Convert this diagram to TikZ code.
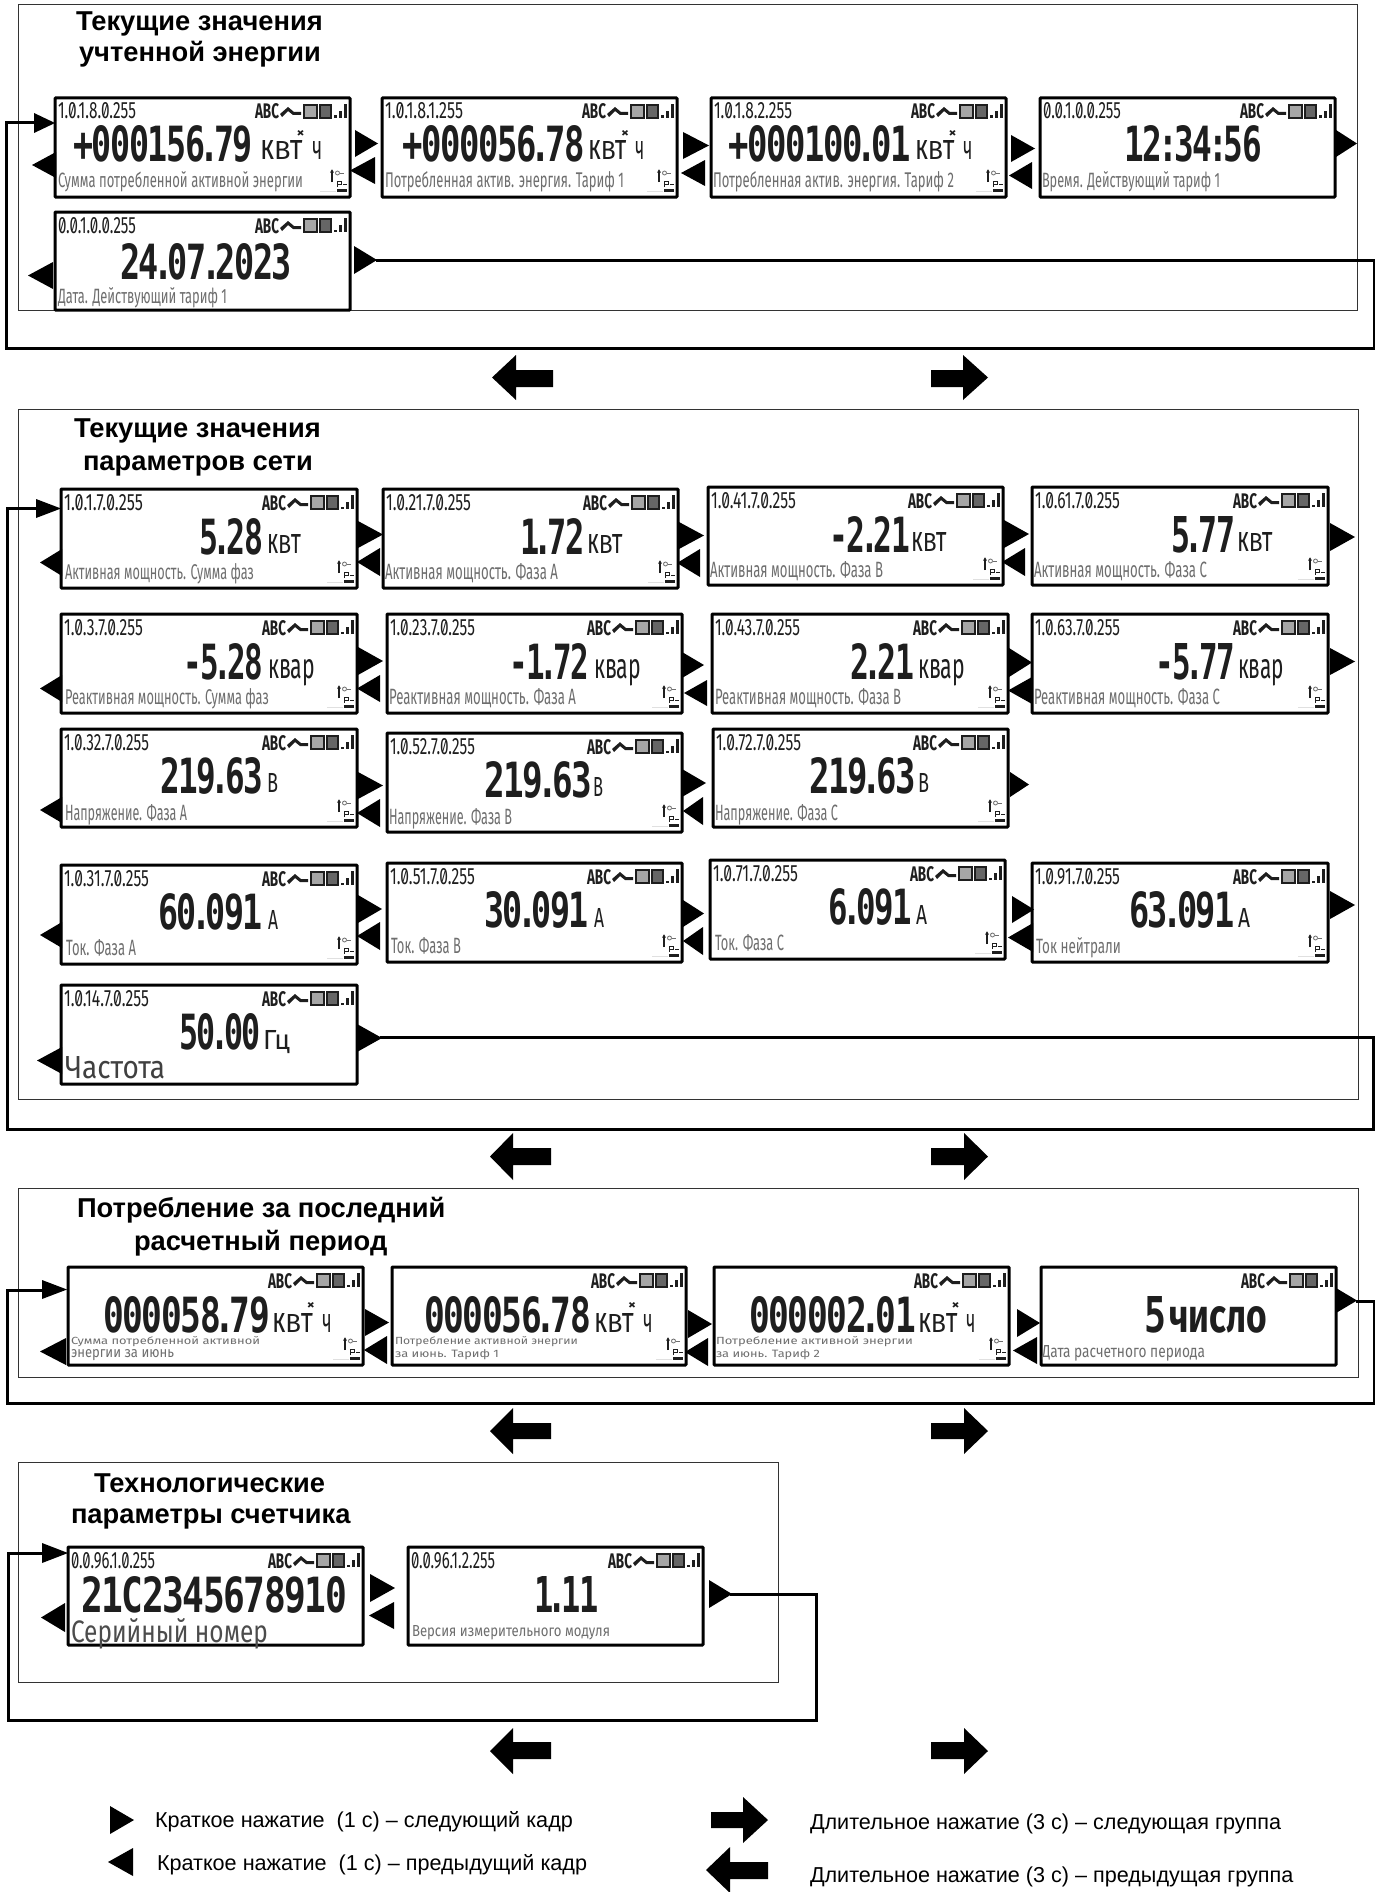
\documentclass[tikz,border=0pt]{standalone}
\usepackage{fontspec}
\setmainfont{Liberation Sans}
\newfontfamily\lcd[RawFeature=+zero]{Fira Sans}
\newfontfamily\lcdnum[LetterSpace=-4]{DejaVu Sans Mono}
\usetikzlibrary{calc,arrows.meta}
\definecolor{lcdink}{HTML}{1E1E1E}
\definecolor{lcdgray}{HTML}{6E6E6E}
\newcounter{nn}
\tikzset{
  fitnode/.style={anchor=base west,inner sep=0pt,outer sep=0pt,text=lcdink},
  lblnode/.style={fitnode,text=lcdgray},
  screenbox/.style={draw=black,line width=3pt,fill=white,rectangle,inner sep=0pt,outer sep=0pt,rounded corners=0.8pt},
  groupframe/.style={draw=black!80,line width=1pt},
  looper/.style={draw=black,line width=3pt,line join=miter},
  titlenode/.style={anchor=base west,inner sep=0pt,outer sep=0pt,font=\bfseries\fontsize{27.3}{30}\selectfont},
  legendnode/.style={anchor=base west,inner sep=0pt,outer sep=0pt,font=\fontsize{21.6}{26}\selectfont},
}
\newcommand\tallk{\scalebox{1}[1.38]{к}}
\newcommand\tallt{\scalebox{1}[1.38]{т}}
\newcommand\dpt{\kern-.17em.\kern-.17em}
\newcommand\cln{\kern-.12em:\kern-.12em}
\newcommand\fitt[6]{\stepcounter{nn}\node[#5] (t\thenn) at (#1,#2) {\resizebox{#3pt}{#4pt}{#6}};}
% status row relative to upper right corner
\newcommand\statusrow[2]{%
 \begin{scope}[shift={(#1,#2)}]
  \fitt{-95}{21}{24}{15}{fitnode}{\lcd\bfseries ABC}
  \fill[lcdink] (-70,16) -- (-62,9) -- (-56,14) -- (-49,14) -- (-49,17) -- (-57,17) -- (-62,13) -- (-68,19) -- cycle;
  \filldraw[draw=lcdink,fill=black!35,line width=2pt] (-46,7) rectangle (-33.5,20);
  \filldraw[draw=lcdink,fill=black!60,line width=2pt] (-30.5,7) rectangle (-19.5,20);
  \fill[lcdink] (-16.5,17.5) rectangle (-13.5,20);
  \fill[lcdink] (-11.5,13) rectangle (-8.5,20);
  \fill[lcdink] (-6,6) rectangle (-3,20);
 \end{scope}}
% key icon relative to lower right corner
\newcommand\keyicon[2]{%
 \begin{scope}[shift={(#1,#2)}]
  \draw[lcdink,line width=1.1pt,-{Latex[length=3.5pt,width=4pt]}] (-18,-15) -- (-18,-28);
  \draw[lcdgray,line width=.8pt] (-12.5,-24) circle (2pt);
  \draw[lcdgray,line width=.8pt] (-10,-24) -- (-6,-24);
  \draw[lcdink,line width=.8pt] (-13,-10) -- (-13,-16) -- (-9,-16) -- (-9,-13) -- (-13,-13);
  \draw[lcdink,line width=.8pt] (-7,-13) -- (-3,-13);
  \fill[lcdink] (-13,-8) rectangle (-3,-5.5);
  \fill[black!12] (-30,-6.5) rectangle (-14,-5.5);
 \end{scope}}
\newcommand\lcdscreen[6]{% name x0 y0 x1 y1 obis
 \pgfmathsetmacro\scw{#4-#2}\pgfmathsetmacro\sch{#5-#3}
 \node[screenbox,minimum width=\scw pt,minimum height=\sch pt] (#1) at ({(#2+#4)/2},{(#3+#5)/2}) {};
 \def\obtext{#6}\ifx\obtext\empty\else
  \pgfmathsetmacro\obx{#2+3}\pgfmathsetmacro\oby{#3+21}
  \fitt{\obx}{\oby}{\obiswidth}{16}{fitnode}{\lcd #6}\fi
 \statusrow{#4}{#3}}
\def\obiswidth{78}
\newcommand\rtri[4]{\fill[black] (#1,#3) -- (#2,{(#3+#4)/2}) -- (#1,#4) -- cycle;}
\newcommand\ltri[4]{\fill[black] (#2,#3) -- (#1,{(#3+#4)/2}) -- (#2,#4) -- cycle;}
\newcommand\bigR[7]{\fill[black] (#1,#5) -- (#2,#5) -- (#2,#3) -- (#7,{(#3+#4)/2}) -- (#2,#4) -- (#2,#6) -- (#1,#6) -- cycle;}
\newcommand\bigL[7]{\fill[black] (#1,#5) -- (#2,#5) -- (#2,#3) -- (#7,{(#3+#4)/2}) -- (#2,#4) -- (#2,#6) -- (#1,#6) -- cycle;}
\newcommand\valnum[4]{\pgfmathsetmacro\vw{#2-#1}\fitt{#1}{#3}{\vw}{36}{fitnode}{\lcdnum\bfseries #4}}
\newcommand\unitpl[5]{\pgfmathsetmacro\vw{#2-#1}\fitt{#1}{#3}{\vw}{#4}{fitnode}{\lcd #5}}
\newcommand\lbl[5]{\pgfmathsetmacro\vw{#2-#1}\fitt{#1}{#3}{\vw}{#4}{lblnode}{\lcd #5}}
% energy unit: кВт * ч
\newcommand\enunit[3]{%
 \pgfmathsetmacro\vw{#2-#1}\pgfmathsetmacro\ua{\vw*0.68}\pgfmathsetmacro\ub{#1+\vw*0.84}\pgfmathsetmacro\uc{\vw*0.16}\pgfmathsetmacro\ud{#1+\vw*0.58}
 \fitt{#1}{#3}{\ua}{19}{fitnode}{\lcd \tallk В\tallt}
 \fitt{\ub}{#3}{\uc}{18}{fitnode}{\lcd ч}
 \pgfmathsetmacro\ue{#3-23}
 \fitt{\ud}{\ue}{8}{7}{fitnode}{\lcd\bfseries ×}}
\begin{document}
\begin{tikzpicture}[x=1pt,y=-1pt]
\useasboundingbox (0,0) rectangle (1375,1892);
\fill[white] (0,0) rectangle (1375,1892);

% ---------- frames
\draw[groupframe] (18,5) rectangle (1357,310);
\draw[groupframe] (18,409) rectangle (1358,1099);
\draw[groupframe] (18,1188) rectangle (1358,1377);
\draw[groupframe] (18,1462) rectangle (778,1682);

% ---------- titles
\node[titlenode] (ti1a) at (76,31) {Текущие значения};
\node[titlenode] (ti1b) at (79,62) {учтенной энергии};
\node[titlenode] (ti2a) at (74,437) {Текущие значения};
\node[titlenode] (ti2b) at (83,470) {параметров сети};
\node[titlenode] (ti3a) at (77,1217) {Потребление за последний};
\node[titlenode] (ti3b) at (134,1250) {расчетный период};
\node[titlenode] (ti4a) at (94,1492) {Технологические};
\node[titlenode] (ti4b) at (71,1523) {параметры счетчика};

% ---------- group 1
\lcdscreen{a1}{55}{98}{350}{197}{1.0.1.8.0.255}
\lcdscreen{a2}{382}{98}{677}{197}{1.0.1.8.1.255}
\lcdscreen{a3}{711}{98}{1006}{197}{1.0.1.8.2.255}
\lcdscreen{a4}{1040}{98}{1335}{197}{0.0.1.0.0.255}
\lcdscreen{a5}{55}{212}{350}{310}{0.0.1.0.0.255}
\keyicon{350}{197}\keyicon{677}{197}\keyicon{1006}{197}
\valnum{73}{253}{161}{+000156\dpt 79}\enunit{260}{323}{160}
\valnum{402}{585}{161}{+000056\dpt 78}\enunit{588}{645}{160}
\valnum{728}{911}{161}{+000100\dpt 01}\enunit{915}{973}{160}
\valnum{1124}{1262}{162}{12\cln 34\cln 56}
\valnum{120}{292}{279}{24\dpt 07\dpt 2023}
\lbl{58}{303}{187}{16}{Сумма потребленной активной энергии}
\lbl{385}{624}{187}{16}{Потребленная актив. энергия. Тариф 1}
\lbl{713}{954}{187}{16}{Потребленная актив. энергия. Тариф 2}
\lbl{1042}{1220}{187}{16}{Время. Действующий тариф 1}
\lbl{58}{227}{303}{16}{Дата. Действующий тариф 1}

\coordinate (a1in) at (35,123);
\coordinate (a5out) at (376,260);
\draw[looper] (a5out) -- (1374,260) -- (1374,348) -- (6,348) -- (6,123) -- (a1in);
\rtri{34}{55}{113}{133}
\ltri{32}{56}{152}{178}
\rtri{355}{378}{130}{157}\ltri{350}{375}{157}{184}
\rtri{683}{709}{132}{159}\ltri{681}{705}{160}{186}
\rtri{1011}{1035}{135}{162}\ltri{1009}{1032}{162}{189}
\rtri{1336}{1357}{130}{157}
\ltri{28}{53}{262}{289}
\rtri{354}{377}{246}{274}
\bigL{553}{516}{355}{400}{370}{387}{492}
\bigR{931}{963}{355}{400}{370}{387}{988}

% ---------- group 2
\def\obiswidth{79}
\lcdscreen{b1}{61}{489}{357}{588}{1.0.1.7.0.255}
\def\obiswidth{85}
\lcdscreen{b2}{383}{489}{678}{588}{1.0.21.7.0.255}
\lcdscreen{b3}{708}{487}{1003}{585}{1.0.41.7.0.255}
\lcdscreen{b4}{1032}{487}{1328}{585}{1.0.61.7.0.255}
\def\obiswidth{79}
\lcdscreen{c1}{61}{614}{357}{713}{1.0.3.7.0.255}
\def\obiswidth{85}
\lcdscreen{c2}{387}{614}{682}{713}{1.0.23.7.0.255}
\lcdscreen{c3}{712}{614}{1008}{713}{1.0.43.7.0.255}
\lcdscreen{c4}{1032}{614}{1328}{713}{1.0.63.7.0.255}
\lcdscreen{d1}{61}{729}{357}{827}{1.0.32.7.0.255}
\lcdscreen{d2}{387}{733}{682}{832}{1.0.52.7.0.255}
\lcdscreen{d3}{713}{729}{1008}{827}{1.0.72.7.0.255}
\lcdscreen{e1}{61}{865}{357}{964}{1.0.31.7.0.255}
\lcdscreen{e2}{387}{863}{682}{962}{1.0.51.7.0.255}
\lcdscreen{e3}{710}{860}{1005}{959}{1.0.71.7.0.255}
\lcdscreen{e4}{1032}{863}{1328}{962}{1.0.91.7.0.255}
\lcdscreen{f1}{61}{985}{357}{1084}{1.0.14.7.0.255}
\keyicon{357}{588}\keyicon{678}{588}\keyicon{1003}{585}\keyicon{1328}{585}
\keyicon{357}{713}\keyicon{682}{713}\keyicon{1008}{713}\keyicon{1328}{713}
\keyicon{357}{827}\keyicon{682}{832}\keyicon{1008}{827}
\keyicon{357}{964}\keyicon{682}{962}\keyicon{1005}{959}\keyicon{1328}{962}
% values
\valnum{199}{263}{554}{5\dpt 28}\unitpl{267}{301}{553}{19}{\tallk В\tallt}
\valnum{520}{585}{554}{1\dpt 72}\unitpl{587}{623}{553}{19}{\tallk В\tallt}
\valnum{829}{910}{552}{-2\dpt 21}\unitpl{911}{947}{551}{19}{\tallk В\tallt}
\valnum{1171}{1235}{552}{5\dpt 77}\unitpl{1237}{1273}{551}{19}{\tallk В\tallt}
\valnum{183}{263}{679}{-5\dpt 28}\unitpl{268}{315}{678}{19}{квар}
\valnum{509}{589}{679}{-1\dpt 72}\unitpl{594}{641}{678}{19}{квар}
\valnum{850}{914}{679}{2\dpt 21}\unitpl{918}{965}{678}{19}{квар}
\valnum{1155}{1235}{679}{-5\dpt 77}\unitpl{1238}{1284}{678}{19}{квар}
\valnum{160}{263}{793}{219\dpt 63}\unitpl{267}{278}{792}{19}{В}
\valnum{484}{592}{797}{219\dpt 63}\unitpl{593}{603}{796}{19}{В}
\valnum{809}{916}{793}{219\dpt 63}\unitpl{918}{929}{792}{19}{В}
\valnum{158}{263}{929}{60\dpt 091}\unitpl{268}{278}{929}{19}{А}
\valnum{484}{589}{927}{30\dpt 091}\unitpl{594}{604}{927}{19}{А}
\valnum{828}{912}{924}{6\dpt 091}\unitpl{916}{927}{924}{19}{А}
\valnum{1129}{1235}{927}{63\dpt 091}\unitpl{1238}{1250}{927}{19}{А}
\valnum{179}{261}{1049}{50\dpt 00}\unitpl{263}{290}{1049}{19}{Гц}
% labels
\lbl{65}{254}{579}{16}{Активная мощность. Сумма фаз}
\lbl{385}{558}{579}{16}{Активная мощность. Фаза А}
\lbl{710}{883}{577}{16}{Активная мощность. Фаза В}
\lbl{1034}{1207}{577}{16}{Активная мощность. Фаза С}
\lbl{65}{269}{704}{16}{Реактивная мощность. Сумма фаз}
\lbl{389}{576}{704}{16}{Реактивная мощность. Фаза А}
\lbl{715}{901}{704}{16}{Реактивная мощность. Фаза В}
\lbl{1034}{1220}{704}{16}{Реактивная мощность. Фаза С}
\lbl{65}{187}{820}{16}{Напряжение. Фаза А}
\lbl{389}{512}{824}{16}{Напряжение. Фаза В}
\lbl{715}{838}{820}{16}{Напряжение. Фаза С}
\lbl{66}{136}{955}{16}{Ток. Фаза А}
\lbl{391}{461}{953}{16}{Ток. Фаза В}
\lbl{715}{784}{950}{16}{Ток. Фаза С}
\lbl{1036}{1121}{953}{16}{Ток нейтрали}
\fitt{65}{1078}{100}{22}{fitnode}{\color{black!75}\lcd Частота}

\coordinate (b1in) at (36,508);
\coordinate (f1out) at (380,1037);
\draw[looper] (f1out) -- (1373,1037) -- (1373,1129) -- (7,1129) -- (7,508) -- (b1in);
\rtri{36}{61}{499}{518}
\ltri{40}{62}{549}{576}
\rtri{358}{383}{521}{548}\ltri{357}{380}{548}{576}
\rtri{679}{704}{522}{549}\ltri{677}{700}{549}{577}
\rtri{1004}{1029}{520}{548}\ltri{1002}{1025}{548}{576}
\rtri{1330}{1355}{523}{551}
\ltri{40}{62}{675}{702}
\rtri{358}{383}{647}{675}\ltri{357}{380}{675}{702}
\rtri{682}{704}{652}{678}\ltri{684}{707}{680}{706}
\rtri{1009}{1032}{648}{677}\ltri{1008}{1032}{677}{704}
\rtri{1330}{1355}{648}{675}
\ltri{40}{62}{797}{823}
\rtri{358}{383}{772}{799}\ltri{357}{380}{799}{827}
\rtri{682}{706}{769}{797}\ltri{683}{703}{797}{825}
\rtri{1010}{1029}{772}{797}
\ltri{40}{62}{922}{948}
\rtri{358}{382}{895}{923}\ltri{357}{380}{922}{950}
\rtri{683}{704}{900}{927}\ltri{683}{703}{927}{955}
\rtri{1012}{1034}{896}{923}\ltri{1008}{1033}{923}{952}
\rtri{1330}{1355}{891}{919}
\ltri{37}{62}{1047}{1074}
\rtri{357}{382}{1024}{1052}
\bigL{551}{513}{1133}{1180}{1148}{1165}{490}
\bigR{931}{964}{1133}{1180}{1148}{1165}{988}

% ---------- group 3
\lcdscreen{g1}{68}{1267}{363}{1365}{}
\lcdscreen{g2}{392}{1267}{686}{1365}{}
\lcdscreen{g3}{714}{1267}{1009}{1365}{}
\lcdscreen{g4}{1041}{1267}{1336}{1365}{}
\keyicon{363}{1365}\keyicon{686}{1365}\keyicon{1009}{1365}
\valnum{103}{270}{1332}{000058\dpt 79}\enunit{272}{332}{1332}
\valnum{424}{591}{1332}{000056\dpt 78}\enunit{594}{653}{1332}
\valnum{749}{916}{1332}{000002\dpt 01}\enunit{918}{976}{1332}
\valnum{1144}{1166}{1332}{5}
\unitpl{1169}{1267}{1332}{26}{\bfseries число}
\lbl{71}{260}{1344}{8}{Сумма потребленной активной}
\lbl{71}{174}{1357}{8}{энергии за июнь}
\lbl{395}{578}{1344}{8}{Потребление активной энергии}
\lbl{395}{499}{1357}{8}{за июнь. Тариф 1}
\lbl{716}{913}{1344}{8}{Потребление активной энергии}
\lbl{716}{820}{1357}{8}{за июнь. Тариф 2}
\lbl{1042}{1205}{1357}{12}{Дата расчетного периода}

\coordinate (g1in) at (42,1290);
\coordinate (g4out) at (1356,1301);
\draw[looper] (g4out) -- (1374,1301) -- (1374,1403) -- (7,1403) -- (7,1290) -- (g1in);
\rtri{42}{67}{1280}{1299}
\ltri{40}{66}{1338}{1365}
\rtri{365}{389}{1309}{1336}\ltri{364}{387}{1336}{1364}
\rtri{688}{712}{1310}{1338}\ltri{685}{708}{1338}{1366}
\rtri{1017}{1040}{1309}{1337}\ltri{1013}{1037}{1337}{1364}
\rtri{1336}{1357}{1288}{1313}
\bigL{551}{513}{1408}{1454}{1423}{1439}{490}
\bigR{931}{964}{1408}{1454}{1423}{1439}{988}

% ---------- group 4
\def\obiswidth{84}
\lcdscreen{h1}{68}{1547}{363}{1645}{0.0.96.1.0.255}
\lcdscreen{h2}{408}{1547}{703}{1645}{0.0.96.1.2.255}
\valnum{81}{347}{1612}{21C2345678910}
\valnum{534}{599}{1612}{1\dpt 11}
\fitt{71}{1642}{197}{24}{fitnode}{\color{black!70}\lcd Серийный номер}
\lbl{412}{610}{1636}{11}{Версия измерительного модуля}
\coordinate (h1in) at (43,1553);
\coordinate (h2out) at (730,1594);
\draw[looper] (h2out) -- (816,1594) -- (816,1720) -- (8,1720) -- (8,1553) -- (h1in);
\rtri{42}{68}{1543}{1563}
\ltri{41}{65}{1603}{1632}
\rtri{370}{395}{1574}{1602}\ltri{369}{394}{1602}{1629}
\rtri{709}{732}{1580}{1608}
\bigL{551}{513}{1728}{1774}{1742}{1759}{490}
\bigR{931}{964}{1728}{1774}{1742}{1759}{988}

% ---------- legend
\rtri{110}{134}{1806}{1834}
\ltri{108}{133}{1848}{1876}
\node[legendnode] (lg1) at (155,1827) {Краткое нажатие\ \ (1 с) – следующий кадр};
\node[legendnode] (lg2) at (157,1870) {Краткое нажатие\ \ (1 с) – предыдущий кадр};
\bigR{711}{743}{1797}{1843}{1812}{1828}{768}
\bigL{768}{730}{1847}{1893}{1862}{1879}{706}
\node[legendnode] (lg3) at (810,1829) {Длительное нажатие (3 с) – следующая группа};
\node[legendnode] (lg4) at (810,1882) {Длительное нажатие (3 с) – предыдущая группа};
\end{tikzpicture}
\end{document}
